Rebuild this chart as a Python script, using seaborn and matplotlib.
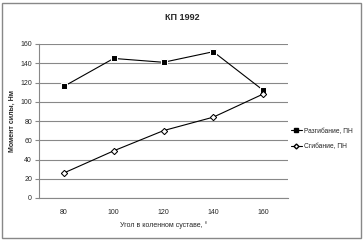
import matplotlib
matplotlib.use("Agg")
import matplotlib.pyplot as plt
import seaborn as sns
import pandas as pd
from matplotlib.lines import Line2D

angles = ["80", "100", "120", "140", "160"]
extension = [116, 145, 141, 152, 112]
flexion = [26, 49, 70, 84, 108]
series_names = ["Разгибание, ПН", "Сгибание, ПН"]
yticks = [0, 20, 40, 60, 80, 100, 120, 140, 160]

sns.set_theme(style="white")
plt.rcParams['font.family'] = ['Liberation Sans', 'DejaVu Sans']

df = pd.DataFrame({
    "angle": angles * 2,
    "value": extension + flexion,
    "series": [series_names[0]] * len(angles) + [series_names[1]] * len(angles),
})

fig = plt.figure(figsize=(3.64, 2.41), dpi=100)
ax = fig.add_axes([39/364, 1-198/241, 249/364, 154/241])

sns.lineplot(data=df, x="angle", y="value", hue="series", style="series",
             markers={series_names[0]: "s", series_names[1]: "D"},
             dashes=False, palette=["black", "black"], ax=ax, linewidth=0.8,
             markersize=4, legend=False)
ax.lines[1].set_markerfacecolor("white")
ax.lines[1].set_markeredgecolor("black")
ax.lines[1].set_markersize(3.2)

ax.set_xlim(-0.5, 4.5)
ax.set_ylim(0, 160)
ax.set_yticks(yticks)
ax.set_yticklabels([str(v) for v in yticks], fontsize=5)
ax.set_xticks(range(len(angles)))
ax.set_xticklabels(angles, fontsize=5)
ax.set_xticks([i - 0.5 for i in range(len(angles) + 1)], minor=True)
ax.tick_params(axis="x", which="major", length=0, pad=8)
ax.tick_params(axis="x", which="minor", length=3, color="#888888", width=0.8, direction="out")
ax.tick_params(axis="y", length=3, color="#888888", width=0.8, direction="out", pad=2, left=True)
ax.grid(axis="y", color="#888888", linewidth=0.8)
ax.set_axisbelow(True)
for s in ["top", "right"]:
    ax.spines[s].set_visible(False)
for s in ["left", "bottom"]:
    ax.spines[s].set_color("#888888")
    ax.spines[s].set_linewidth(0.8)

ax.set_xlabel("Угол в коленном суставе, °", fontsize=5, labelpad=4)
ax.set_ylabel("Момент силы, Нм", fontsize=5, fontweight="bold", labelpad=3)
fig.text(182/364, 1-17/241, "КП 1992", fontsize=6.5, fontweight="bold", ha="center", va="center")

handles = [
    Line2D([], [], color="black", marker="s", markersize=3, linewidth=0.8),
    Line2D([], [], color="black", marker="D", markersize=2.5, markerfacecolor="white", linewidth=0.8),
]
fig.legend(handles, series_names, loc="center left", bbox_to_anchor=(291/364, 1-139/241),
           frameon=False, fontsize=4.8, handlelength=1.6, handletextpad=0.3, labelspacing=1.3,
           borderpad=0, borderaxespad=0)

fig.patches.append(plt.Rectangle((2/364, 3/241), 359/364, 235/241, transform=fig.transFigure,
                                 fill=False, edgecolor="#888888", linewidth=1))

fig.savefig("out.png", dpi=100)
